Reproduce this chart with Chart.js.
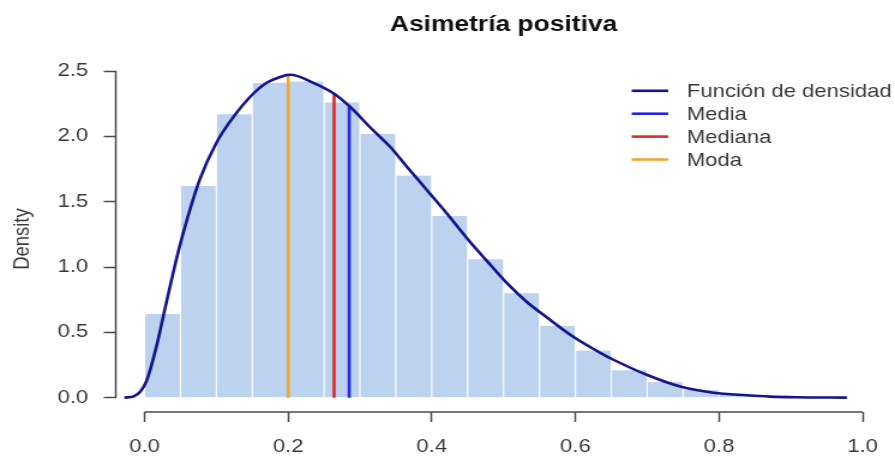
<!DOCTYPE html>
<html><head><meta charset="utf-8">
<script src="https://cdn.jsdelivr.net/npm/chart.js@4"></script>
<style>
html,body{margin:0;padding:0;background:#fff;overflow:hidden;width:895px;height:460px}
#wrap{width:746px;height:460px;transform:scaleX(1.19973);transform-origin:0 0}
canvas{display:block}
</style></head><body>
<div id="wrap"><canvas id="c" width="746" height="460"></canvas></div>
<script>
// ---- data ----
const chartTitle = 'Asimetría positiva';
const yTitle = 'Density';
const densityLabel = 'Función de densidad';
const binCenters = [0.025,0.075,0.125,0.175,0.225,0.275,0.325,0.375,0.425,0.475,0.525,0.575,0.625,0.675,0.725,0.775,0.825,0.875,0.925,0.975];
const binDensity = [0.64,1.62,2.17,2.41,2.42,2.26,2.02,1.70,1.39,1.06,0.80,0.55,0.36,0.21,0.12,0.06,0.025,0.008,0.002,0];
const densityX = [-0.028,-0.015,-0.006,0.003,0.017,0.026,0.038,0.049,0.077,0.100,0.124,0.152,0.170,0.189,0.198,0.203,0.235,0.263,0.286,0.314,0.342,0.365,0.393,0.421,0.451,0.477,0.504,0.532,0.560,0.597,0.634,0.653,0.700,0.746,0.792,0.839,0.871,0.908,0.978];
const densityY = [0,0.01,0.045,0.13,0.40,0.62,0.91,1.16,1.67,1.95,2.15,2.33,2.41,2.455,2.47,2.472,2.41,2.33,2.227,2.07,1.92,1.77,1.59,1.41,1.207,1.045,0.88,0.734,0.615,0.466,0.345,0.29,0.173,0.085,0.038,0.018,0.008,0.003,0];
const statLabels = ['Media','Mediana','Moda'];
const statX = [0.285,0.264,0.2];
const statTop = [2.227,2.33,2.47];
const statColors = ['#2424ec','#e02828','#f2a530'];
const xTicks = [0,0.2,0.4,0.6,0.8,1.0];
const yTicks = [0,0.5,1.0,1.5,2.0,2.5];

const FONT = '"Liberation Sans", Arial, sans-serif';
Chart.defaults.font.family = FONT;

const datasets = [];
datasets.push({
  type:'line', label:densityLabel, legend:true,
  data: densityX.map((x,i)=>({x, y:densityY[i]})),
  borderColor:'#14148c', borderWidth:2.6, pointRadius:0,
  cubicInterpolationMode:'monotone', fill:false, order:1
});
statLabels.forEach((lab,i)=>{
  datasets.push({
    type:'line', label:lab, legend:true,
    data:[{x:statX[i],y:0},{x:statX[i],y:statTop[i]}],
    borderColor:statColors[i], borderWidth:2.6, pointRadius:0, fill:false, order:2+i
  });
});
datasets.push({
  type:'bar', label:'hist', legend:false,
  data: binCenters.map((x,i)=>({x, y:binDensity[i]})),
  backgroundColor:'#BCD2EE', borderColor:'#ffffff', borderWidth:{left:0.9,right:0.9,top:0,bottom:0},
  borderSkipped:false, categoryPercentage:1, barPercentage:1, grouped:false, order:10
});

const axisColor = '#4a4a4a';
const textColor = '#3a3a3a';

const rPlugin = {
  id:'rStyle',
  afterDraw(chart){
    const ctx = chart.ctx, ca = chart.chartArea;
    const xs = chart.scales.x, ys = chart.scales.y;
    ctx.save();
    ctx.strokeStyle = axisColor; ctx.lineWidth = 1.5; ctx.lineCap='butt';
    ctx.beginPath();
    ctx.moveTo(xs.getPixelForValue(xTicks[0]), ca.bottom);
    ctx.lineTo(xs.getPixelForValue(xTicks[xTicks.length-1]), ca.bottom);
    ctx.moveTo(ca.left, ys.getPixelForValue(yTicks[0]));
    ctx.lineTo(ca.left, ys.getPixelForValue(yTicks[yTicks.length-1]));
    ctx.stroke();
    ctx.fillStyle = '#111';
    ctx.font = 'bold 22px ' + FONT;
    ctx.textAlign = 'center'; ctx.textBaseline = 'alphabetic';
    ctx.fillText(chartTitle, (ca.left+ca.right)/2, 31);
    ctx.save();
    ctx.translate(18.5, 239);
    ctx.rotate(-Math.PI/2);
    ctx.font = '18.4px ' + FONT;
    ctx.fillStyle = textColor;
    ctx.textAlign='center'; ctx.textBaseline='middle';
    ctx.fillText(yTitle, 0, 0);
    ctx.restore();
    const items = chart.data.datasets.filter(d=>d.legend);
    ctx.font = '18.4px ' + FONT;
    ctx.textAlign='left'; ctx.textBaseline='middle';
    items.forEach((d,i)=>{
      const y = 90.8 + i*22.9;
      ctx.strokeStyle = d.borderColor; ctx.lineWidth = 2.6;
      ctx.beginPath(); ctx.moveTo(526.5,y); ctx.lineTo(557,y); ctx.stroke();
      ctx.fillStyle = textColor;
      ctx.fillText(d.label, 572.5, y+1);
    });
    ctx.restore();
  }
};

new Chart(document.getElementById('c'), {
  type:'bar',
  data:{datasets},
  options:{
    responsive:false, animation:false, devicePixelRatio:1,
    layout:{padding:{top:24,right:3,left:0,bottom:0}},
    plugins:{legend:{display:false}, tooltip:{enabled:false}, title:{display:false}},
    scales:{
      x:{
        type:'linear', min:-0.04, max:1.04, offset:false,
        afterBuildTicks(s){ s.ticks = xTicks.map(v=>({value:v})); },
        afterFit(s){ s.height = 48; },
        grid:{offset:false, drawOnChartArea:false, drawTicks:true, tickLength:10, tickColor:axisColor, tickWidth:1.5},
        border:{display:false},
        ticks:{padding:14, color:textColor, font:{size:18.4}, maxRotation:0, autoSkip:false, callback:v=>Number(v).toFixed(1)}
      },
      y:{
        type:'linear', min:-0.11, max:2.86,
        afterBuildTicks(s){ s.ticks = yTicks.map(v=>({value:v})); },
        afterFit(s){ s.width = 96.5; },
        grid:{drawOnChartArea:false, drawTicks:true, tickLength:10, tickColor:axisColor, tickWidth:1.5},
        border:{display:false},
        ticks:{padding:13, color:textColor, font:{size:18.4}, autoSkip:false, callback:v=>Number(v).toFixed(1)}
      }
    }
  },
  plugins:[rPlugin]
});
</script>
</body></html>
